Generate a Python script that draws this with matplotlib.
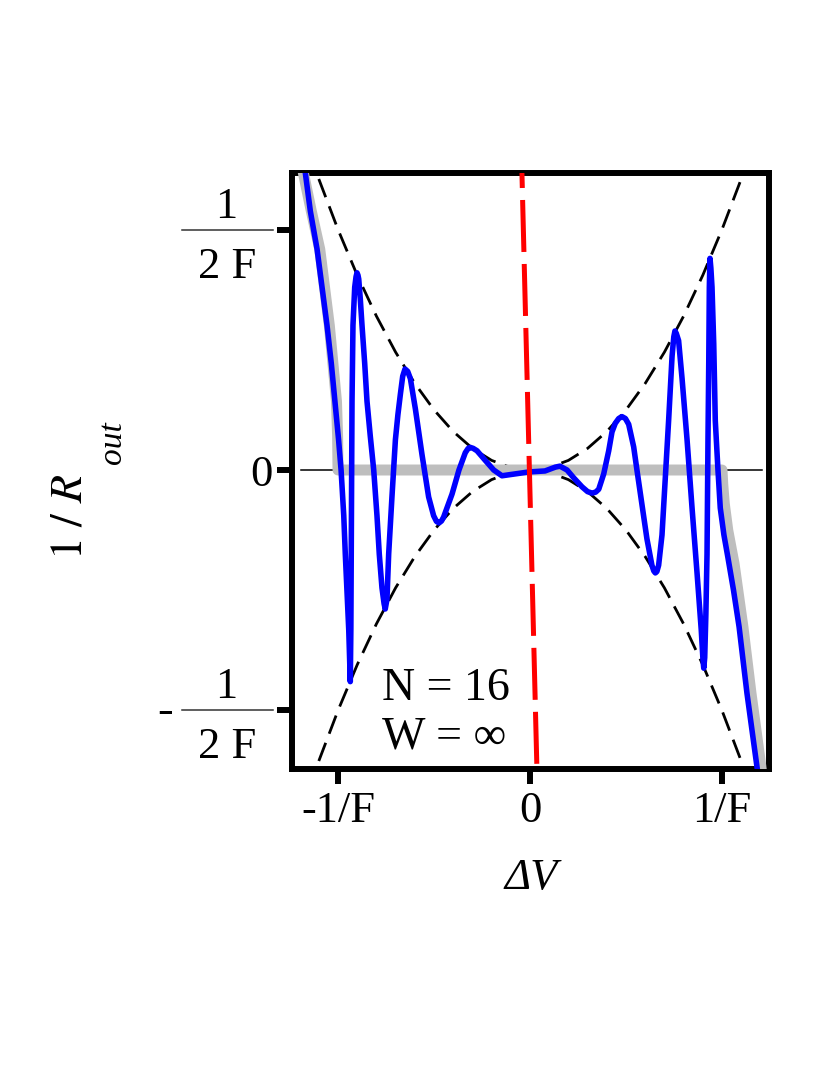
import matplotlib
matplotlib.use('Agg')
import matplotlib.pyplot as plt
from matplotlib.lines import Line2D

plt.rcParams['mathtext.fontset'] = 'stix'
plt.rcParams['font.family'] = ['Liberation Serif', 'DejaVu Serif']

# ---------------- data ----------------
blue_x = [-1.19, -1.170, -1.144, -1.109, -1.083, -1.057, -1.035, -1.016, -0.997, -0.984,
          -0.970, -0.962, -0.953, -0.944, -0.938, -0.936,
          -0.933, -0.930, -0.927, -0.922, -0.913, -0.906, -0.901,
          -0.896, -0.892, -0.884, -0.875, -0.861, -0.849, -0.832, -0.814, -0.797,
          -0.785, -0.771, -0.760, -0.754, -0.745, -0.736, -0.719, -0.701, -0.688,
          -0.675, -0.663, -0.651, -0.637, -0.623, -0.597, -0.5625, -0.528, -0.502,
          -0.487, -0.474, -0.461, -0.450, -0.424, -0.406, -0.370, -0.337, -0.322,
          -0.311, -0.296, -0.276, -0.233, -0.189, -0.146, -0.076, -0.005, 0.078,
          0.132, 0.156, 0.193, 0.227, 0.271, 0.300, 0.323, 0.342, 0.358, 0.384,
          0.410, 0.427, 0.444, 0.462, 0.479, 0.497, 0.514, 0.540, 0.557, 0.583,
          0.609, 0.635, 0.645, 0.653, 0.661, 0.670, 0.6875, 0.705, 0.722, 0.740,
          0.749, 0.755, 0.762, 0.774, 0.792, 0.818, 0.844, 0.870, 0.892, 0.901,
          0.905, 0.910, 0.916, 0.922, 0.927, 0.931, 0.934, 0.9375, 0.942, 0.948,
          0.957, 0.965, 0.979, 0.991, 1.010, 1.030, 1.060, 1.089, 1.130, 1.177, 1.19]
blue_y = [0.67, 0.617, 0.538, 0.459, 0.380, 0.300, 0.222, 0.143, 0.063, 0.0,
          -0.095, -0.175, -0.253, -0.333, -0.41, -0.44,
          -0.33, -0.096, 0.143, 0.301, 0.38, 0.402, 0.41,
          0.405, 0.397, 0.356, 0.301, 0.222, 0.143, 0.071, 0.0, -0.095,
          -0.175, -0.245, -0.278, -0.289, -0.269, -0.174, -0.056, 0.063, 0.115,
          0.158, 0.195, 0.210, 0.205, 0.190, 0.127, 0.032, -0.056, -0.095,
          -0.107, -0.110, -0.106, -0.098, -0.070, -0.050, 0.0, 0.036, 0.045,
          0.047, 0.045, 0.040, 0.020, 0.0, -0.012, -0.008, -0.004, -0.002,
          0.006, 0.008, 0.0, -0.016, -0.035, -0.045, -0.048, -0.046, -0.040, -0.008,
          0.040, 0.079, 0.097, 0.107, 0.111, 0.107, 0.095, 0.048, 0.0, -0.071,
          -0.143, -0.198, -0.210, -0.214, -0.211, -0.198, -0.135, -0.016, 0.103, 0.237,
          0.277, 0.289, 0.284, 0.269, 0.190, 0.063, -0.079, -0.214, -0.333, -0.395,
          -0.412, -0.39, -0.30, -0.175, 0.063, 0.222, 0.38, 0.44, 0.42, 0.38,
          0.262, 0.103, 0.0, -0.079, -0.135, -0.180, -0.250, -0.326, -0.464, -0.603, -0.64]

gray_x = [-1.20, -1.18, -1.14, -1.095, -1.045, -1.008, -1.002, -1.0,
          1.0, 1.004, 1.012, 1.030, 1.063, 1.109, 1.151, 1.198, 1.21]
gray_y = [0.66, 0.617, 0.54, 0.459, 0.300, 0.143, 0.07, 0.0,
          0.0, -0.03, -0.07, -0.125, -0.195, -0.326, -0.464, -0.603, -0.64]

env_x = [-1.1, -1.0, -0.9, -0.8, -0.7, -0.6, -0.5, -0.4, -0.3, -0.2, -0.1, 0.0,
         0.1, 0.2, 0.3, 0.4, 0.5, 0.6, 0.7, 0.8, 0.9, 1.0, 1.1]
env_upper = [0.605, 0.50, 0.405, 0.32, 0.245, 0.18, 0.125, 0.08, 0.045, 0.02, 0.005, 0.0,
             0.005, 0.02, 0.045, 0.08, 0.125, 0.18, 0.245, 0.32, 0.405, 0.50, 0.605]
env_lower = [-0.605, -0.50, -0.405, -0.32, -0.245, -0.18, -0.125, -0.08, -0.045, -0.02, -0.005, 0.0,
             -0.005, -0.02, -0.045, -0.08, -0.125, -0.18, -0.245, -0.32, -0.405, -0.50, -0.605]

red_x = [-0.042, 0.036]
red_y = [0.6175, -0.6206]

zero_x = [-1.195, 1.21]
zero_y = [0.0, 0.0]

xtick_vals = [-1, 0, 1]
xtick_labels = ['-1/F', '0', '1/F']
ytick_vals = [-0.5, 0, 0.5]
ytick_labels = ['', '0', '']
frac_ticks = [0.5, -0.5]
frac_num = '1'
frac_den = '2 F'

N_text = 'N = 16'
W_text = 'W = \u221e'

# ---------------- figure ----------------
W, H = 830, 1075
fig = plt.figure(figsize=(W / 100, H / 100), dpi=100)
L, R, T, B = 292, 769, 173, 768.5
ax = fig.add_axes([L / W, 1 - B / H, (R - L) / W, (B - T) / H])
ax.set_xlim(-1.2396, 1.2448)
ax.set_ylim(-0.6206, 0.6175)

ax.plot(zero_x, zero_y, color='black', lw=1.1, zorder=1)
dash_k = (0, (7, 3.5))
ax.plot(env_x, env_upper, color='black', lw=2.0, ls=dash_k, zorder=2)
ax.plot(env_x, env_lower, color='black', lw=2.0, ls=dash_k, zorder=2)
ax.plot(gray_x, gray_y, color='#bebebe', lw=7.9, solid_capstyle='round',
        solid_joinstyle='round', zorder=3)
ax.plot(blue_x, blue_y, color='#0000ff', lw=4.0, solid_joinstyle='round', zorder=4)
ax.plot(red_x, red_y, color='#ff0000', lw=3.6, ls=(7.4, (10.4, 2.4)), zorder=5)

for s in ax.spines.values():
    s.set_linewidth(4.3)
ax.set_xticks(xtick_vals)
ax.set_xticklabels(xtick_labels)
ax.set_yticks(ytick_vals)
ax.set_yticklabels(ytick_labels)
ax.tick_params(axis='both', direction='out', length=11, width=4.3, labelsize=32)
ax.tick_params(axis='x', pad=5)
ax.tick_params(axis='y', pad=3)

ax.text(-0.771, -0.478, N_text, fontsize=33, ha='left', va='baseline')
ax.text(-0.771, -0.578, W_text, fontsize=33, ha='left', va='baseline')

# fraction tick labels on y axis
fig.canvas.draw()
for tv in frac_ticks:
    ty = H - ax.transData.transform((0, tv))[1]   # pixel from top
    fig.text(226 / W, 1 - (ty - 12) / H, frac_num, fontsize=32, ha='center', va='baseline')
    fig.text(227 / W, 1 - (ty + 48) / H, frac_den, fontsize=32, ha='center', va='baseline')
    fig.add_artist(Line2D([182 / W, 273 / W], [1 - ty / H, 1 - ty / H],
                          transform=fig.transFigure, color='#333333', lw=1.1))
    if tv < 0:
        fig.text(165 / W, 1 - (ty + 1) / H, '-', fontsize=34, ha='center', va='center')

# axis labels
fig.text(531 / W, 1 - 878 / H, '\u0394V', fontsize=32, style='italic', ha='center', va='center')
fig.text(70 / W, 1 - 517 / H, r'$1\ /\ R$', fontsize=33, rotation=90, ha='center', va='center')
fig.text(113 / W, 1 - 443 / H, 'out', fontsize=24, style='italic', rotation=90,
         ha='center', va='center')

fig.savefig('out.png', dpi=100)
